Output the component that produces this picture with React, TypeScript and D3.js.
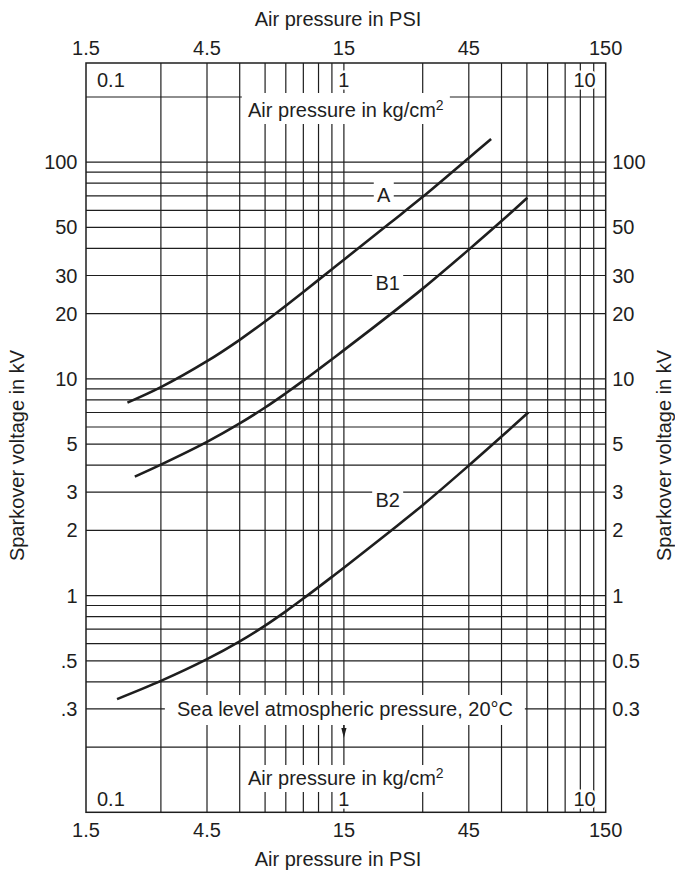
import React from "react";
import * as d3 from "d3";

// ---------- data ----------
// vertical grid (air pressure, kg/cm2)
const kgGrid = [0.2, 0.3, 0.4, 0.5, 0.6, 0.7, 0.8, 0.9, 1, 2, 3, 4, 5, 6, 7, 8, 9];
// horizontal grid (kV)
const kvGrid = [
  0.2, 0.3, 0.4, 0.5, 0.6, 0.7, 0.8, 0.9,
  1, 2, 3, 4, 5, 6, 7, 8, 9,
  10, 20, 30, 40, 50, 60, 70, 80, 90,
  100, 200,
];
const psiTicks = [1.5, 4.5, 15, 45, 150];
const psiTickLabels = ["1.5", "4.5", "15", "45", "150"];
const kvTicks = [100, 50, 30, 20, 10, 5, 3, 2, 1, 0.5, 0.3];
const kvLeftLabels = ["100", "50", "30", "20", "10", "5", "3", "2", "1", ".5", ".3"];
const kvRightLabels = ["100", "50", "30", "20", "10", "5", "3", "2", "1", "0.5", "0.3"];
const kgLabels = ["0.1", "1", "10"];

const curveNames = ["A", "B1", "B2"];
// pressure in kg/cm2, voltage in kV
const aPressure = [0.149, 0.2, 0.3, 0.4, 0.5, 0.6, 0.7, 0.8, 0.9, 1, 1.5, 2, 3, 3.65];
const aVoltage = [7.77, 9.16, 12.07, 15.15, 18.4, 21.77, 25.2, 28.64, 32.07, 35.49, 52.4, 69.2, 104.7, 128.1];
const b1Pressure = [0.159, 0.2, 0.3, 0.4, 0.5, 0.6, 0.7, 0.8, 0.9, 1, 1.5, 2, 3, 4, 5.02];
const b1Voltage = [3.54, 4.02, 5.12, 6.23, 7.38, 8.59, 9.82, 11.07, 12.32, 13.58, 19.8, 26.1, 39.5, 53.5, 68.6];
const b2Pressure = [0.136, 0.2, 0.3, 0.4, 0.5, 0.6, 0.7, 0.8, 0.9, 1, 1.5, 2, 3, 4, 5.07];
const b2Voltage = [0.333, 0.404, 0.509, 0.615, 0.727, 0.846, 0.969, 1.094, 1.22, 1.345, 1.978, 2.615, 3.985, 5.42, 7.02];

// ---------- layout ----------
const W = 675;
const H = 871;
const X_MIN = 0.1035; // 1.5 psi
const X_MAX = 10;
const Y_MIN = 0.1;
const Y_MAX = 287;
const FONT = "'Liberation Sans', Arial, Helvetica, sans-serif";
const FS = 20;
const INK = "#1e1e1e";

const x = d3.scaleLog().domain([X_MIN, X_MAX]).range([86, 605.7]);
const y = d3.scaleLog().domain([Y_MIN, Y_MAX]).range([812.3, 63]);

const series = [
  { p: aPressure, v: aVoltage },
  { p: b1Pressure, v: b1Voltage },
  { p: b2Pressure, v: b2Voltage },
];
// label anchors in data units (kg/cm2, kV at baseline)
const labelAnchors = [
  { p: 1.42, v: 65.6, w: 20 },
  { p: 1.47, v: 25.7, w: 31 },
  { p: 1.47, v: 2.57, w: 31 },
];

const line = d3
  .line<[number, number]>()
  .x((d) => x(d[0]))
  .y((d) => y(d[1]))
  .curve(d3.curveCatmullRom.alpha(0.5));

const halo: React.CSSProperties = {
  paintOrder: "stroke",
  stroke: "#fff",
  strokeWidth: 5,
  strokeLinejoin: "round",
};

export default function App() {
  const x0 = x(X_MIN);
  const x1 = x(X_MAX);
  const yTop = y(Y_MAX);
  const yBot = y(Y_MIN);
  const xMid = (x0 + x1) / 2;
  const x1kg = x(1);
  const yMidTitle = 455.5;

  return (
    <svg
      width={W}
      height={H}
      viewBox={`0 0 ${W} ${H}`}
      style={{ position: "absolute", left: 0, top: 0, background: "#fff" }}
      fontFamily={FONT}
      fontSize={FS}
      fill={INK}
    >
      <rect x={0} y={0} width={W} height={H} fill="#fff" />

      {/* grid */}
      <g stroke={INK} strokeWidth={1.2}>
        {kgGrid.map((k) => (
          <line key={"v" + k} x1={x(k)} x2={x(k)} y1={yTop} y2={yBot} />
        ))}
        {kvGrid.map((v) => (
          <line key={"h" + v} x1={x0} x2={x1} y1={y(v)} y2={y(v)} />
        ))}
      </g>
      <rect x={x0} y={yTop} width={x1 - x0} height={yBot - yTop} fill="none" stroke={INK} strokeWidth={1.5} />

      {/* curves */}
      <g fill="none" stroke={INK} strokeWidth={2.6} strokeLinecap="butt">
        {series.map((s, i) => (
          <path key={i} d={line(s.p.map((p, j) => [p, s.v[j]] as [number, number])) || ""} />
        ))}
      </g>

      {/* white boxes behind inner labels */}
      <g fill="#fff">
        <rect x={xMid - 104} y={93} width={208} height={31} />
        <rect x={xMid - 104} y={765} width={208} height={27} />
        <rect x={xMid - 181} y={695} width={360} height={30} />
        {labelAnchors.map((a, i) => (
          <rect key={i} x={x(a.p) - a.w / 2} y={y(a.v) - 20} width={a.w} height={26} />
        ))}
      </g>

      {/* arrow to sea level pressure */}
      <line x1={x1kg} x2={x1kg} y1={725} y2={732} stroke={INK} strokeWidth={1.2} />
      <path d={`M${x1kg - 2.6},${728} L${x1kg + 2.6},${728} L${x1kg},${738} Z`} fill={INK} />

      {/* curve labels */}
      {curveNames.map((n, i) => (
        <text key={n} x={x(labelAnchors[i].p)} y={y(labelAnchors[i].v)} textAnchor="middle">
          {n}
        </text>
      ))}

      {/* inner kg/cm2 labels */}
      <text x={xMid} y={117} textAnchor="middle">
        Air pressure in kg/cm<tspan dy={-7} fontSize={14}>2</tspan>
      </text>
      <text x={xMid} y={784.5} textAnchor="middle">
        Air pressure in kg/cm<tspan dy={-7} fontSize={14}>2</tspan>
      </text>
      <text x={345} y={716} textAnchor="middle">
        Sea level atmospheric pressure, 20°C
      </text>

      {[86.7, 806].map((by) => (
        <g key={by}>
          <text x={x0 + 11} y={by} textAnchor="start" style={halo}>{kgLabels[0]}</text>
          <text x={x1kg} y={by} textAnchor="middle" style={halo}>{kgLabels[1]}</text>
          <text x={x1 - 10} y={by} textAnchor="end" style={halo}>{kgLabels[2]}</text>
        </g>
      ))}

      {/* psi tick labels */}
      {psiTicks.map((p, i) => {
        const px = x(Math.max(p / 15, X_MIN));
        return (
          <g key={p}>
            <text x={px} y={55} textAnchor="middle">{psiTickLabels[i]}</text>
            <text x={px} y={836.5} textAnchor="middle">{psiTickLabels[i]}</text>
          </g>
        );
      })}

      {/* kV tick labels */}
      {kvTicks.map((v, i) => (
        <g key={v}>
          <text x={x0 - 8.5} y={y(v) + 7} textAnchor="end">{kvLeftLabels[i]}</text>
          <text x={x1 + 6.5} y={y(v) + 7} textAnchor="start">{kvRightLabels[i]}</text>
        </g>
      ))}

      {/* axis titles */}
      <text x={338} y={25.5} textAnchor="middle">Air pressure in PSI</text>
      <text x={338} y={866} textAnchor="middle">Air pressure in PSI</text>
      <text transform={`translate(24,${yMidTitle}) rotate(-90)`} textAnchor="middle">
        Sparkover voltage in kV
      </text>
      <text transform={`translate(671,${yMidTitle}) rotate(-90)`} textAnchor="middle">
        Sparkover voltage in kV
      </text>
    </svg>
  );
}
